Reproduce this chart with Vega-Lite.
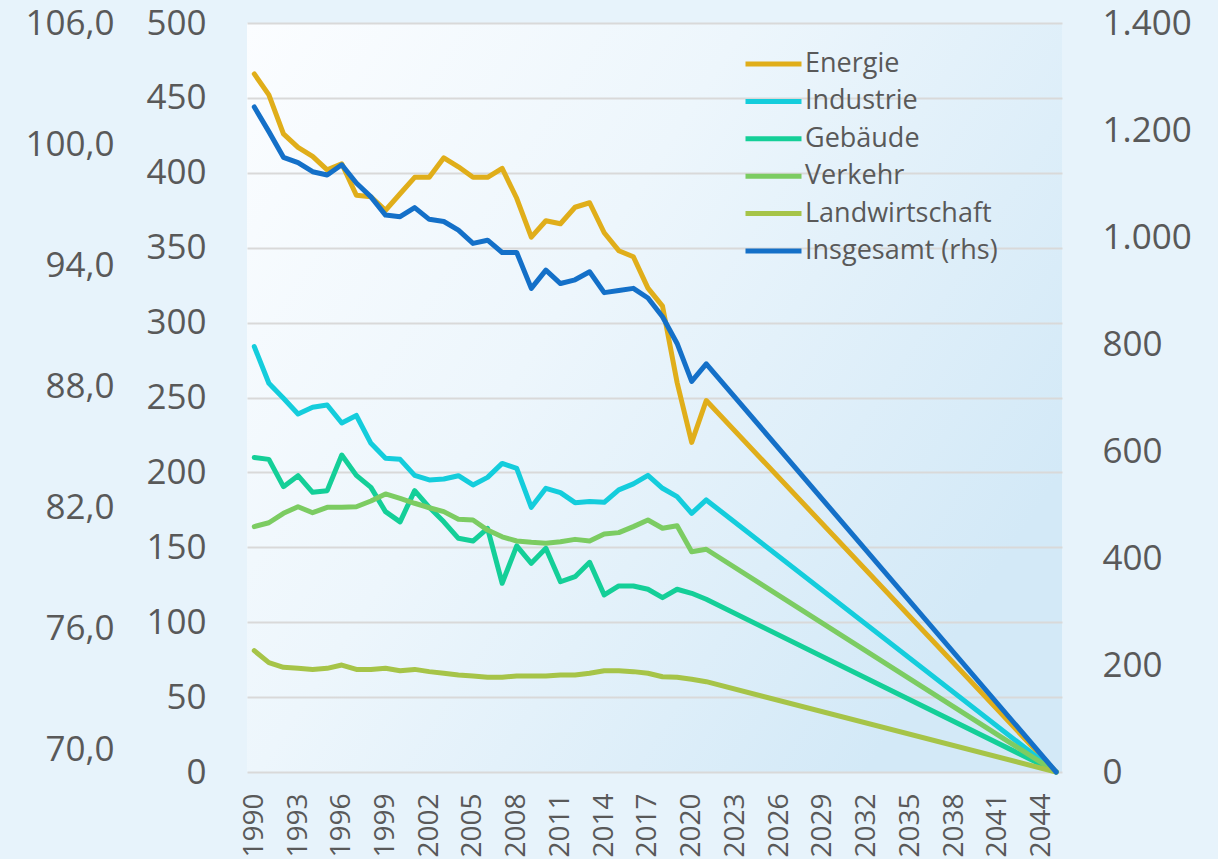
{
  "$schema": "https://vega.github.io/schema/vega-lite/v6.json",
  "width": 815,
  "height": 749,
  "padding": {"left": 24, "top": 6, "right": 28, "bottom": 20},
  "background": "#e7f3fb",
  "config": {
    "locale": {"number": {"decimal": ",", "thousands": ".", "grouping": [3], "currency": ["", " €"]}},
    "view": {"stroke": null, "fill": {"gradient": "linear", "x1": 0, "y1": 0, "x2": 1, "y2": 0.6, "stops": [{"offset": 0, "color": "#fbfdff"}, {"offset": 0.45, "color": "#edf6fc"}, {"offset": 1, "color": "#d3e9f7"}]}},
    "font": "Open Sans",
    "axis": {"labelFont": "Open Sans", "labelColor": "#595959", "ticks": false, "domain": false, "title": null}
  },
  "datasets": {
    "emis": [
      {"year": 1990, "Energie": 466, "Industrie": 284, "Gebäude": 210, "Verkehr": 163.8, "Landwirtschaft": 81, "Insgesamt (rhs)": 1243},
      {"year": 1991, "Energie": 452, "Industrie": 259.5, "Gebäude": 208.7, "Verkehr": 166.4, "Landwirtschaft": 73, "Insgesamt (rhs)": 1197},
      {"year": 1992, "Energie": 426, "Industrie": 249.5, "Gebäude": 190.5, "Verkehr": 172.7, "Landwirtschaft": 69.9, "Insgesamt (rhs)": 1149},
      {"year": 1993, "Energie": 417, "Industrie": 239, "Gebäude": 197.8, "Verkehr": 177.1, "Landwirtschaft": 69.2, "Insgesamt (rhs)": 1139},
      {"year": 1994, "Energie": 411, "Industrie": 243.5, "Gebäude": 186.7, "Verkehr": 173.1, "Landwirtschaft": 68.5, "Insgesamt (rhs)": 1122},
      {"year": 1995, "Energie": 402, "Industrie": 245, "Gebäude": 187.8, "Verkehr": 176.7, "Landwirtschaft": 69.2, "Insgesamt (rhs)": 1116},
      {"year": 1996, "Energie": 406, "Industrie": 233, "Gebäude": 211.6, "Verkehr": 176.7, "Landwirtschaft": 71.4, "Insgesamt (rhs)": 1135},
      {"year": 1997, "Energie": 385, "Industrie": 238, "Gebäude": 198, "Verkehr": 177.1, "Landwirtschaft": 68.5, "Insgesamt (rhs)": 1101},
      {"year": 1998, "Energie": 384, "Industrie": 219.4, "Gebäude": 190, "Verkehr": 180.9, "Landwirtschaft": 68.5, "Insgesamt (rhs)": 1075},
      {"year": 1999, "Energie": 375, "Industrie": 209.4, "Gebäude": 173.8, "Verkehr": 185.6, "Landwirtschaft": 69.2, "Insgesamt (rhs)": 1041},
      {"year": 2000, "Energie": 386, "Industrie": 208.7, "Gebäude": 167, "Verkehr": 182.7, "Landwirtschaft": 67.6, "Insgesamt (rhs)": 1038},
      {"year": 2001, "Energie": 397, "Industrie": 198, "Gebäude": 187.8, "Verkehr": 179.4, "Landwirtschaft": 68.5, "Insgesamt (rhs)": 1055},
      {"year": 2002, "Energie": 397, "Industrie": 195, "Gebäude": 176.7, "Verkehr": 176.4, "Landwirtschaft": 67, "Insgesamt (rhs)": 1033},
      {"year": 2003, "Energie": 410, "Industrie": 195.6, "Gebäude": 167, "Verkehr": 173.8, "Landwirtschaft": 65.9, "Insgesamt (rhs)": 1029},
      {"year": 2004, "Energie": 404, "Industrie": 197.8, "Gebäude": 156, "Verkehr": 168.7, "Landwirtschaft": 64.8, "Insgesamt (rhs)": 1013},
      {"year": 2005, "Energie": 397, "Industrie": 191.6, "Gebäude": 154.2, "Verkehr": 168.2, "Landwirtschaft": 64.1, "Insgesamt (rhs)": 988},
      {"year": 2006, "Energie": 397, "Industrie": 196.7, "Gebäude": 162.7, "Verkehr": 161.5, "Landwirtschaft": 63.2, "Insgesamt (rhs)": 994},
      {"year": 2007, "Energie": 403, "Industrie": 206, "Gebäude": 126, "Verkehr": 157, "Landwirtschaft": 63.2, "Insgesamt (rhs)": 971},
      {"year": 2008, "Energie": 383, "Industrie": 202.7, "Gebäude": 150.9, "Verkehr": 154.2, "Landwirtschaft": 64.1, "Insgesamt (rhs)": 971},
      {"year": 2009, "Energie": 357, "Industrie": 176.7, "Gebäude": 139.3, "Verkehr": 153.3, "Landwirtschaft": 64.1, "Insgesamt (rhs)": 904},
      {"year": 2010, "Energie": 368, "Industrie": 189.4, "Gebäude": 149.3, "Verkehr": 152.7, "Landwirtschaft": 64.1, "Insgesamt (rhs)": 938},
      {"year": 2011, "Energie": 366, "Industrie": 186.5, "Gebäude": 127, "Verkehr": 153.7, "Landwirtschaft": 64.8, "Insgesamt (rhs)": 913},
      {"year": 2012, "Energie": 377, "Industrie": 179.8, "Gebäude": 130.4, "Verkehr": 155.3, "Landwirtschaft": 64.8, "Insgesamt (rhs)": 920},
      {"year": 2013, "Energie": 380, "Industrie": 180.5, "Gebäude": 140, "Verkehr": 154.2, "Landwirtschaft": 65.9, "Insgesamt (rhs)": 935},
      {"year": 2014, "Energie": 360, "Industrie": 180, "Gebäude": 118.2, "Verkehr": 158.9, "Landwirtschaft": 67.6, "Insgesamt (rhs)": 896},
      {"year": 2015, "Energie": 348, "Industrie": 188.3, "Gebäude": 124.2, "Verkehr": 159.8, "Landwirtschaft": 67.6, "Insgesamt (rhs)": 900},
      {"year": 2016, "Energie": 344, "Industrie": 192.3, "Gebäude": 124.2, "Verkehr": 163.8, "Landwirtschaft": 67, "Insgesamt (rhs)": 904},
      {"year": 2017, "Energie": 323, "Industrie": 198, "Gebäude": 122, "Verkehr": 168.2, "Landwirtschaft": 65.9, "Insgesamt (rhs)": 886},
      {"year": 2018, "Energie": 311, "Industrie": 189.4, "Gebäude": 116.4, "Verkehr": 162.7, "Landwirtschaft": 63.6, "Insgesamt (rhs)": 851},
      {"year": 2019, "Energie": 260, "Industrie": 183.8, "Gebäude": 122, "Verkehr": 164.4, "Landwirtschaft": 63.2, "Insgesamt (rhs)": 801},
      {"year": 2020, "Energie": 220, "Industrie": 172.7, "Gebäude": 119.3, "Verkehr": 147, "Landwirtschaft": 61.9, "Insgesamt (rhs)": 730},
      {"year": 2021, "Energie": 248, "Industrie": 181.6, "Gebäude": 115.3, "Verkehr": 148.7, "Landwirtschaft": 60.3, "Insgesamt (rhs)": 763},
      {"year": 2045, "Energie": 0, "Industrie": 0, "Gebäude": 0, "Verkehr": 0, "Landwirtschaft": 0, "Insgesamt (rhs)": 0}
    ],
    "ticks3": [{"t": 70}, {"t": 106}]
  },
  "layer": [
    {
      "data": {"name": "emis"},
      "transform": [
        {"fold": ["Energie", "Industrie", "Gebäude", "Verkehr", "Landwirtschaft"], "as": ["series", "value"]}
      ],
      "mark": {"type": "line", "strokeWidth": 5, "strokeCap": "round", "strokeJoin": "round"},
      "encoding": {
        "x": {"field": "year", "type": "quantitative", "scale": {"domain": [1989.5, 2045.4], "nice": false, "zero": false},
          "axis": {"values": [1990, 1993, 1996, 1999, 2002, 2005, 2008, 2011, 2014, 2017, 2020, 2023, 2026, 2029, 2032, 2035, 2038, 2041, 2044], "format": "d", "labelAngle": -90, "labelFontSize": 28, "labelPadding": 21, "grid": false, "title": null}},
        "y": {"field": "value", "type": "quantitative", "scale": {"domain": [0, 500], "nice": false},
          "axis": {"orient": "left", "values": [0, 50, 100, 150, 200, 250, 300, 350, 400, 450, 500], "format": "d", "labelFontSize": 35, "labelPadding": 41, "grid": true, "gridColor": "#d9d9d9", "gridWidth": 2, "title": null}},
        "color": {"field": "series", "type": "nominal",
          "scale": {"domain": ["Energie", "Industrie", "Gebäude", "Verkehr", "Landwirtschaft", "Insgesamt (rhs)"], "range": ["#e0ae1a", "#14cddc", "#14cf98", "#7ccc62", "#a6c448", "#1470c8"]},
          "legend": {"orient": "none", "legendX": 496, "legendY": 26, "title": null, "symbolType": "stroke", "symbolSize": 3136, "symbolStrokeWidth": 5, "labelFontSize": 27, "labelColor": "#595959", "labelFont": "Open Sans", "labelLimit": 0, "clipHeight": 30, "rowPadding": 7.4, "labelOffset": 1}}
      }
    },
    {
      "data": {"name": "emis"},
      "transform": [
        {"fold": ["Insgesamt (rhs)"], "as": ["series", "value"]}
      ],
      "mark": {"type": "line", "strokeWidth": 5, "strokeCap": "round", "strokeJoin": "round"},
      "encoding": {
        "x": {"field": "year", "type": "quantitative"},
        "y": {"field": "value", "type": "quantitative", "scale": {"domain": [0, 1400], "nice": false},
          "axis": {"orient": "right", "values": [0, 200, 400, 600, 800, 1000, 1200, 1400], "format": ",d", "labelFontSize": 35, "labelPadding": 40, "grid": false, "title": null}},
        "color": {"field": "series", "type": "nominal"}
      }
    },
    {
      "data": {"name": "ticks3"},
      "mark": {"type": "rule", "opacity": 0},
      "encoding": {
        "y": {"field": "t", "type": "quantitative", "scale": {"domain": [68.91, 106], "nice": false, "zero": false},
          "axis": {"orient": "left", "values": [70, 76, 82, 88, 94, 100, 106], "format": ".1f", "labelFontSize": 35, "labelPadding": 133, "grid": false, "title": null}}
      }
    }
  ],
  "resolve": {"scale": {"y": "independent"}, "axis": {"y": "independent"}}
}
